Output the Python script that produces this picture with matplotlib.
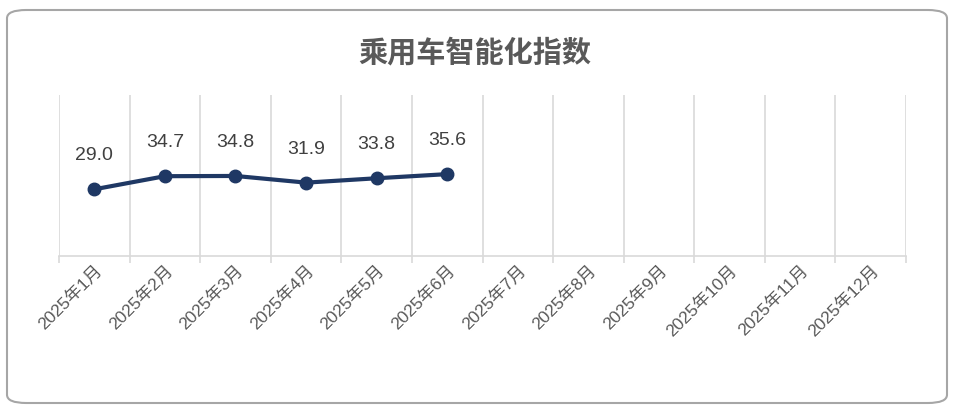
import matplotlib
matplotlib.use("Agg")
import matplotlib.pyplot as plt
from matplotlib.patches import FancyBboxPatch

plt.rcParams['font.family'] = ['Noto Sans CJK SC', 'DejaVu Sans']

# data
months = ['2025年1月', '2025年2月', '2025年3月', '2025年4月', '2025年5月', '2025年6月',
          '2025年7月', '2025年8月', '2025年9月', '2025年10月', '2025年11月', '2025年12月']
values = [29.0, 34.7, 34.8, 31.9, 33.8, 35.6]

fig = plt.figure(figsize=(9.6, 4.13), dpi=100)

# rounded frame around the whole chart
frame = FancyBboxPatch((7 / 960, 10 / 413), 940 / 960, 393 / 413,
                       boxstyle="round,pad=0,rounding_size=0.02",
                       transform=fig.transFigure, facecolor='none',
                       edgecolor='#A6A6A6', linewidth=1.5, zorder=-1)
fig.patches.append(frame)

ax = fig.add_axes([59 / 960, 1 - 256 / 413, 847 / 960, 161 / 413])
ax.set_facecolor('none')

x = list(range(len(values)))
ax.plot(x, values, color='#1F3864', linewidth=3, marker='o', markersize=9,
        solid_capstyle='round', zorder=3)
for xi, v in zip(x, values):
    ax.annotate(f'{v:.1f}', (xi, v), xytext=(0, 18), textcoords='offset points',
                ha='center', va='bottom', fontsize=14, color='#404040',
                family=['Liberation Sans', 'DejaVu Sans'])

ax.set_xlim(-0.5, len(months) - 0.5)
ax.set_ylim(0, 70)

# vertical gridlines at category boundaries
for b in range(len(months) + 1):
    ax.axvline(b - 0.5, color='#D9D9D9', linewidth=1.2, zorder=1)

ax.set_xticks(range(len(months)))
ax.set_xticklabels(months, rotation=45, ha='right', rotation_mode='anchor',
                   fontsize=12.5, color='#595959',
                   family=['Liberation Sans', 'Noto Sans CJK SC'])
ax.tick_params(axis='x', length=0, pad=5)
ax.set_xticks([b - 0.5 for b in range(len(months) + 1)], minor=True)
ax.tick_params(axis='x', which='minor', length=5, color='#D9D9D9', width=1.2)
ax.set_yticks([])

for s in ['top', 'right', 'left']:
    ax.spines[s].set_visible(False)
ax.spines['bottom'].set_color('#D9D9D9')
ax.spines['bottom'].set_linewidth(1.2)

fig.text(475 / 960, 1 - 52 / 413, '乘用车智能化指数', ha='center', va='center',
         fontsize=21, fontweight='bold', color='#595959')

fig.savefig('out.png', dpi=100, facecolor='white')
